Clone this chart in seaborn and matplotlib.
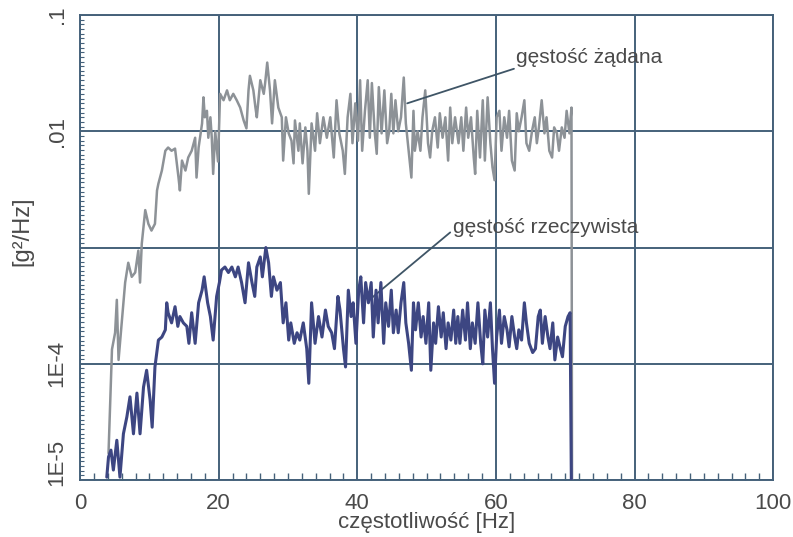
import numpy as np
import pandas as pd
import matplotlib
matplotlib.use('Agg')
import matplotlib.pyplot as plt
import matplotlib.ticker as ticker
import matplotlib.transforms as mtransforms
import seaborn as sns

# gęstość żądana (requested PSD), [Hz] and [g^2/Hz]
zadana_hz = [
    4.1, 4.6, 5.05, 5.3, 5.55, 6.0, 6.5, 6.95, 7.45, 7.95, 8.4, 8.65, 8.9,
    9.4, 9.85, 10.3, 10.8, 11.1, 11.3, 11.8, 12.3, 12.7, 13.2, 13.7, 14.2,
    14.4, 14.7, 15.2, 15.6, 16.1, 16.6, 16.8, 17.1, 17.6, 17.8, 18.0, 18.3,
    18.5, 18.8, 19.0, 19.2, 19.5, 19.9, 20.2, 20.7, 21.2, 21.6, 22.1, 22.6,
    23.1, 23.6, 24.0, 24.3, 24.5, 25.0, 25.3, 25.5, 26.0, 26.5, 26.7, 27.0,
    27.4, 27.7, 28.1, 28.6, 29.1, 29.3, 29.7, 30.1, 30.5, 30.8, 31.0, 31.5,
    31.7, 32.1, 32.5, 32.8, 33.0, 33.4, 33.9, 34.2, 34.6, 35.1, 35.6, 36.1,
    36.6, 37.0, 37.4, 37.9, 38.2, 38.6, 39.0, 39.3, 39.7, 40.1, 40.4, 40.7,
    41.1, 41.5, 41.8, 42.1, 42.5, 42.8, 43.1, 43.5, 43.9, 44.3, 44.6, 44.9,
    45.2, 45.5, 45.9, 46.3, 46.7, 47.0, 47.4, 47.8, 48.1, 48.3, 48.7, 49.1,
    49.4, 49.8, 50.2, 50.5, 50.8, 51.2, 51.6, 51.9, 52.3, 52.7, 53.1, 53.4,
    53.7, 54.1, 54.6, 55.0, 55.3, 55.7, 56.0, 56.4, 56.8, 57.0, 57.3, 57.7,
    58.1, 58.4, 58.8, 59.2, 59.5, 59.8, 60.1, 60.5, 60.8, 61.2, 61.6, 61.9,
    62.3, 62.7, 63.0, 63.3, 63.7, 64.1, 64.4, 64.8, 65.2, 65.6, 65.9, 66.2,
    66.6, 67.0, 67.3, 67.7, 68.1, 68.4, 68.8, 69.1, 69.5, 69.9, 70.2, 70.6,
    70.9, 71.0]
zadana_psd = [
    1.7e-5, 1.33e-4, 1.85e-4, 3.55e-4, 1.08e-4, 2.25e-4, 5.0e-4, 7.4e-4,
    5.6e-4, 6.1e-4, 9.4e-4, 5.0e-4, 1.08e-3, 2.1e-3, 1.6e-3, 1.4e-3, 1.6e-3,
    3.1e-3, 3.55e-3, 4.6e-3, 6.8e-3, 7.25e-3, 6.8e-3, 7.1e-3, 4.0e-3, 3.1e-3,
    5.6e-3, 4.6e-3, 5.95e-3, 6.8e-3, 8.8e-3, 4.0e-3, 7.25e-3, 1.17e-2,
    1.96e-2, 1.32e-2, 1.5e-2, 8.8e-3, 1.32e-2, 8.8e-3, 4.3e-3, 1.0e-2,
    5.5e-3, 2.1e-2, 1.85e-2, 2.25e-2, 1.85e-2, 2.1e-2, 1.85e-2, 1.6e-2,
    1.24e-2, 1.06e-2, 2.25e-2, 3.0e-2, 2.25e-2, 1.6e-2, 1.32e-2, 2.75e-2,
    2.1e-2, 2.6e-2, 3.9e-2, 2.25e-2, 1.17e-2, 2.75e-2, 1.6e-2, 1.32e-2,
    5.6e-3, 1.32e-2, 9.6e-3, 8.3e-3, 5.3e-3, 1.24e-2, 6.8e-3, 1.17e-2,
    5.3e-3, 1.08e-2, 6.8e-3, 2.9e-3, 1.17e-2, 6.8e-3, 1.43e-2, 7.9e-3,
    1.32e-2, 8.8e-3, 1.32e-2, 5.95e-3, 1.85e-2, 9.6e-3, 6.8e-3, 4.3e-3,
    1.32e-2, 2.1e-2, 7.9e-3, 1.74e-2, 8.3e-3, 2.75e-2, 6.8e-3, 1.5e-2,
    2.75e-2, 8.8e-3, 2.6e-2, 1.0e-2, 6.4e-3, 2.4e-2, 9.6e-3, 2.25e-2,
    7.9e-3, 1.0e-2, 2.1e-2, 9.6e-3, 1.85e-2, 1.0e-2, 1.32e-2, 2.9e-2,
    1.17e-2, 6.8e-3, 4.0e-3, 1.5e-2, 6.8e-3, 1.0e-2, 6.8e-3, 1.32e-2,
    2.25e-2, 7.9e-3, 5.95e-3, 1.0e-2, 1.32e-2, 7.25e-3, 1.43e-2, 8.8e-3,
    1.32e-2, 5.6e-3, 1.6e-2, 7.9e-3, 1.32e-2, 7.9e-3, 1.32e-2, 6.8e-3,
    1.6e-2, 8.8e-3, 1.32e-2, 5.95e-3, 4.3e-3, 1.5e-2, 5.95e-3, 1.85e-2,
    5.6e-3, 1.96e-2, 7.9e-3, 4.9e-3, 3.8e-3, 1.32e-2, 1.5e-2, 6.8e-3,
    1.32e-2, 8.8e-3, 1.5e-2, 5.6e-3, 4.6e-3, 1.43e-2, 1.0e-2, 1.32e-2,
    1.85e-2, 7.9e-3, 6.8e-3, 1.0e-2, 1.32e-2, 7.9e-3, 1.08e-2, 1.85e-2,
    9.6e-3, 1.32e-2, 6.8e-3, 5.95e-3, 1.08e-2, 9.6e-3, 6.8e-3, 1.08e-2,
    8.8e-3, 1.5e-2, 9.6e-3, 1.6e-2, 1e-6]

# gęstość rzeczywista (measured PSD)
rzecz_hz = [
    3.85, 4.1, 4.45, 4.8, 5.3, 5.75, 6.25, 6.75, 7.2, 7.7, 8.2, 8.65, 9.15,
    9.6, 10.1, 10.4, 10.8, 11.3, 11.8, 12.3, 12.5, 12.7, 13.2, 13.7, 14.1,
    14.4, 14.9, 15.4, 15.7, 16.1, 16.6, 17.1, 17.6, 17.9, 18.4, 18.8, 19.2,
    19.7, 20.1, 20.4, 20.9, 21.4, 21.9, 22.4, 22.8, 23.3, 23.8, 24.3, 24.8,
    25.2, 25.5, 26.0, 26.3, 26.8, 27.2, 27.6, 27.9, 28.4, 28.9, 29.3, 29.7,
    30.1, 30.4, 30.9, 31.3, 31.7, 32.2, 32.7, 33.0, 33.4, 33.9, 34.4, 34.9,
    35.4, 35.8, 36.3, 36.7, 37.2, 37.5, 38.0, 38.3, 38.7, 39.1, 39.4, 39.8,
    40.2, 40.5, 40.9, 41.2, 41.6, 42.0, 42.3, 42.7, 43.0, 43.4, 43.8, 44.1,
    44.5, 44.9, 45.2, 45.6, 45.9, 46.3, 46.7, 47.0, 47.4, 47.8, 48.1, 48.4,
    48.8, 49.2, 49.5, 49.9, 50.3, 50.6, 51.0, 51.3, 51.7, 52.1, 52.4, 52.8,
    53.1, 53.5, 53.9, 54.2, 54.5, 54.8, 55.2, 55.6, 55.9, 56.3, 56.6, 57.0,
    57.4, 57.8, 58.1, 58.4, 58.8, 59.2, 59.5, 59.8, 60.1, 60.5, 60.8, 61.2,
    61.6, 61.9, 62.3, 62.7, 63.0, 63.3, 63.7, 64.1, 64.4, 64.8, 65.3, 65.7,
    66.1, 66.4, 66.7, 67.1, 67.5, 67.8, 68.2, 68.5, 68.9, 69.3, 69.6, 70.0,
    70.4, 70.7, 71.0]
rzecz_psd = [
    1.06e-5, 1.58e-5, 1.81e-5, 1.22e-5, 2.2e-5, 1.06e-5, 2.5e-5, 3.5e-5,
    5.2e-5, 2.5e-5, 5.6e-5, 2.5e-5, 6.3e-5, 8.8e-5, 4.9e-5, 2.85e-5, 9.4e-5,
    1.6e-4, 1.7e-4, 1.96e-4, 3.35e-4, 2.75e-4, 2.25e-4, 3.1e-4, 2.1e-4,
    2.55e-4, 2.25e-4, 2.1e-4, 1.5e-4, 2.75e-4, 1.5e-4, 3.35e-4, 4.3e-4,
    5.6e-4, 3.35e-4, 2.55e-4, 1.6e-4, 3.8e-4, 5.0e-4, 6.4e-4, 6.8e-4,
    6.1e-4, 6.8e-4, 5.6e-4, 6.8e-4, 5.0e-4, 3.35e-4, 7.4e-4, 5.0e-4, 3.8e-4,
    6.8e-4, 8.3e-4, 5.6e-4, 1.0e-3, 7.4e-4, 3.8e-4, 5.6e-4, 4.3e-4, 5.0e-4,
    2.25e-4, 3.35e-4, 1.6e-4, 2.25e-4, 1.5e-4, 1.85e-4, 1.6e-4, 2.25e-4,
    1.35e-4, 6.8e-5, 3.35e-4, 1.5e-4, 2.55e-4, 1.7e-4, 2.9e-4, 2.1e-4,
    1.85e-4, 1.35e-4, 3.8e-4, 2.9e-4, 1.35e-4, 9.4e-5, 4.3e-4, 2.55e-4,
    3.35e-4, 1.5e-4, 4.3e-4, 5.6e-4, 2.25e-4, 5.0e-4, 3.35e-4, 5.0e-4,
    1.7e-4, 4.3e-4, 2.25e-4, 5.0e-4, 1.5e-4, 3.35e-4, 2.1e-4, 4.3e-4,
    1.85e-4, 2.9e-4, 1.85e-4, 3.35e-4, 5.0e-4, 2.25e-4, 1.5e-4, 8.8e-5,
    3.35e-4, 1.96e-4, 3.35e-4, 1.7e-4, 2.55e-4, 1.5e-4, 3.35e-4, 8.8e-5,
    2.25e-4, 1.5e-4, 3.1e-4, 1.7e-4, 2.75e-4, 1.35e-4, 2.25e-4, 1.6e-4,
    2.9e-4, 1.5e-4, 2.55e-4, 1.5e-4, 2.9e-4, 1.6e-4, 3.35e-4, 1.35e-4,
    2.25e-4, 1.5e-4, 3.35e-4, 1.5e-4, 1.0e-4, 2.9e-4, 1.7e-4, 3.35e-4,
    1.35e-4, 6.8e-5, 1.7e-4, 2.9e-4, 1.5e-4, 2.55e-4, 1.96e-4, 1.4e-4,
    2.55e-4, 1.7e-4, 1.35e-4, 1.96e-4, 1.6e-4, 3.35e-4, 2.25e-4, 1.5e-4,
    1.25e-4, 1.35e-4, 2.55e-4, 2.9e-4, 1.5e-4, 2.55e-4, 1.7e-4, 1.35e-4,
    2.25e-4, 1.08e-4, 1.7e-4, 1.35e-4, 1.15e-4, 2.1e-4, 2.55e-4, 2.75e-4,
    1e-6]

x_ticks = [0, 20, 40, 60, 80, 100]
y_ticks = [1e-5, 1e-4, 1e-3, 1e-2, 1e-1]
y_tick_labels = ['1E-5', '1E-4', '', '.01', '.1']

TEXT = '#4a4a4a'
GRID = '#45617a'


def main():
    sns.set_style('white')
    plt.rcParams['font.family'] = ['Liberation Sans', 'DejaVu Sans']

    fig = plt.figure(figsize=(7.93, 5.37), dpi=100)
    ax = fig.add_axes([0.101, 0.106, 0.874, 0.866])

    zadana = pd.DataFrame({'f': zadana_hz, 'psd': zadana_psd})
    rzecz = pd.DataFrame({'f': rzecz_hz, 'psd': rzecz_psd})
    sns.lineplot(data=zadana, x='f', y='psd', ax=ax, color='#8d9297',
                 linewidth=1.8, estimator=None, sort=False, zorder=3)
    sns.lineplot(data=rzecz, x='f', y='psd', ax=ax, color='#3d4682',
                 linewidth=2.2, estimator=None, sort=False, zorder=4)

    ax.set_yscale('log')
    ax.set_xlim(0, 100)
    ax.set_ylim(1e-5, 1e-1)
    ax.set_xticks(x_ticks)
    ax.set_yticks(y_ticks)
    ax.set_yticklabels(y_tick_labels, rotation=90, va='center')
    ax.xaxis.set_minor_locator(ticker.MultipleLocator(2))
    ax.yaxis.set_minor_locator(
        ticker.LogLocator(base=10, subs=10 ** np.arange(0, 1, 0.04),
                          numticks=200))
    ax.yaxis.set_minor_formatter(ticker.NullFormatter())
    ax.tick_params(which='both', direction='in', colors=GRID,
                   labelcolor=TEXT, labelsize=16, bottom=True, left=True)
    ax.tick_params(which='major', length=0, pad=9)
    ax.tick_params(axis='x', which='minor', length=5, width=1.0)
    ax.tick_params(axis='y', which='minor', length=3, width=0.8)

    # lift the bottom y label a little, as in the original
    lift = mtransforms.ScaledTranslation(0, 0.18, fig.dpi_scale_trans)
    for lab in ax.get_yticklabels():
        if lab.get_text() == '1E-5':
            lab.set_transform(lab.get_transform() + lift)

    ax.grid(True, which='major', color=GRID, linewidth=1.4)
    for side in ax.spines.values():
        side.set_color(GRID)
        side.set_linewidth(1.4)

    ax.set_xlabel('częstotliwość [Hz]', fontsize=16, color=TEXT,
                  labelpad=-1)
    ax.set_ylabel('[g²/Hz]', fontsize=17, color=TEXT)
    ax.yaxis.set_label_coords(-0.068, 0.535)

    line_kw = dict(arrowstyle='-', color='#3f5566', linewidth=1.3,
                   shrinkA=0, shrinkB=0)
    ax.annotate('', xy=(47.2, 1.74e-2), xytext=(62.6, 3.45e-2),
                arrowprops=line_kw)
    ax.text(62.9, 4.3e-2, 'gęstość żądana', fontsize=15, color=TEXT,
            ha='left', va='center')
    ax.annotate('', xy=(42.1, 3.7e-4), xytext=(53.4, 1.35e-3),
                arrowprops=line_kw)
    ax.text(53.8, 1.5e-3, 'gęstość rzeczywista', fontsize=15, color=TEXT,
            ha='left', va='center')

    plt.savefig('out.png', dpi=100)


if __name__ == '__main__':
    main()
